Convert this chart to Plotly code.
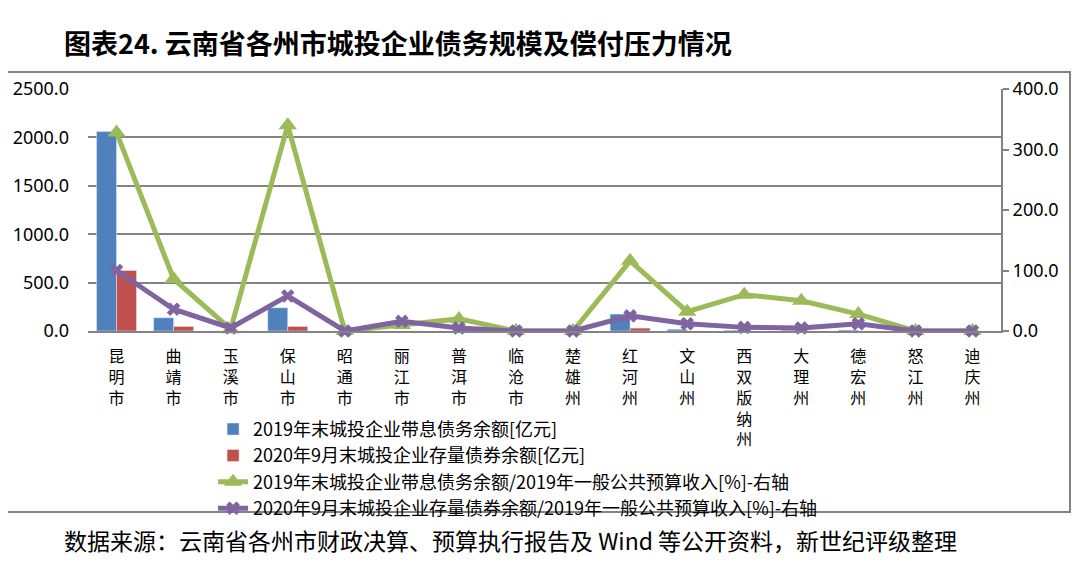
import plotly.graph_objects as go

categories = ["昆明市", "曲靖市", "玉溪市", "保山市", "昭通市", "丽江市", "普洱市", "临沧市",
              "楚雄州", "红河州", "文山州", "西双版纳州", "大理州", "德宏州", "怒江州", "迪庆州"]

debt_2019 = [2060, 137, 0, 240, 0, 0, 0, 0, 0, 175, 18, 8, 8, 10, 0, 0]
bond_2020 = [625, 47, 0, 47, 0, 0, 0, 0, 0, 30, 0, 0, 0, 0, 0, 0]
ratio_2019 = [328, 86, 3, 340, 0, 10, 20, 0, 0, 116, 32, 60, 50, 28, 0, 0]
ratio_2020 = [100, 36, 5, 58, 0, 16, 5, 0, 0, 25, 12, 6, 5, 12, 0, 0]

left_ticks = [0, 500, 1000, 1500, 2000, 2500]
right_ticks = [0, 100, 200, 300, 400]

names = [
    "2019年末城投企业带息债务余额[亿元]",
    "2020年9月末城投企业存量债券余额[亿元]",
    "2019年末城投企业带息债务余额/2019年一般公共预算收入[%]-右轴",
    "2020年9月末城投企业存量债券余额/2019年一般公共预算收入[%]-右轴",
]

title_text = "图表24. 云南省各州市城投企业债务规模及偿付压力情况"
source_text = "数据来源：云南省各州市财政决算、预算执行报告及 Wind 等公开资料，新世纪评级整理"

tick_text = ["<br>".join(list(c)) for c in categories]

CJK = "Noto Sans CJK SC"
GRAY = "#838383"

fig = go.Figure()
fig.add_trace(go.Bar(x=categories, y=debt_2019, name=names[0], marker_color="#4F81BD"))
fig.add_trace(go.Bar(x=categories, y=bond_2020, name=names[1], marker_color="#C0504D"))
fig.add_trace(go.Scatter(x=categories, y=ratio_2019, name=names[2], yaxis="y2",
                         mode="lines+markers", cliponaxis=False,
                         line=dict(color="#9BBB59", width=5),
                         marker=dict(symbol="triangle-up", size=16, color="#9BBB59")))
fig.add_trace(go.Scatter(x=categories, y=ratio_2020, name=names[3], yaxis="y2",
                         mode="lines+markers", cliponaxis=False,
                         line=dict(color="#8064A2", width=5),
                         marker=dict(symbol="x", size=12, color="#8064A2")))

fig.update_layout(
    width=1064, height=553,
    margin=dict(l=80, r=71, t=81, b=230, autoexpand=False),
    paper_bgcolor="white", plot_bgcolor="white",
    barmode="group", bargap=0.3, bargroupgap=0,
    font=dict(family=CJK, color="#000000"),
    xaxis=dict(tickmode="array", tickvals=categories, ticktext=tick_text,
               range=[-0.5, len(categories) - 0.5], autorange=False,
               tickfont=dict(family=CJK, size=16, color="#000"),
               showline=True, linecolor=GRAY, linewidth=2, ticks="",
               ticklabelstandoff=10, showgrid=False, tickangle=0),
    yaxis=dict(range=[0, 2500], tickvals=left_ticks, tickformat=".1f",
               tickfont=dict(family="Noto Sans", size=18, color="#000"),
               showgrid=True, gridcolor=GRAY, gridwidth=2, zeroline=False,
               showline=False, ticks="", ticklabelstandoff=18),
    yaxis2=dict(range=[0, 400], tickvals=right_ticks, tickformat=".1f", overlaying="y",
                side="right", showgrid=False, zeroline=False,
                showline=True, linecolor=GRAY, linewidth=2,
                ticks="outside", ticklen=6, tickcolor=GRAY, tickwidth=2,
                tickfont=dict(family="Noto Sans", size=18, color="#000")),
    legend=dict(x=0.137, y=-0.33, xanchor="left", yanchor="top",
                font=dict(family=CJK, size=18, color="#000"),
                bgcolor="rgba(0,0,0,0)", tracegroupgap=0, traceorder="normal"),
    showlegend=True,
)

fig.add_shape(type="rect", xref="paper", yref="paper",
              x0=-0.0931, x1=1.0756, y0=-0.748, y1=1.0702,
              line=dict(color=GRAY, width=2), fillcolor="rgba(0,0,0,0)", layer="below")

fig.add_annotation(text="<b>" + title_text + "</b>", xref="paper", yref="paper",
                   x=-0.0285, y=1.194, xanchor="left", yanchor="middle", showarrow=False,
                   font=dict(family=CJK, size=27, color="#000"))
fig.add_annotation(text=source_text, xref="paper", yref="paper",
                   x=-0.0285, y=-0.864, xanchor="left", yanchor="middle", showarrow=False,
                   font=dict(family=CJK, size=23, color="#000"))

fig.write_html("out.html")
